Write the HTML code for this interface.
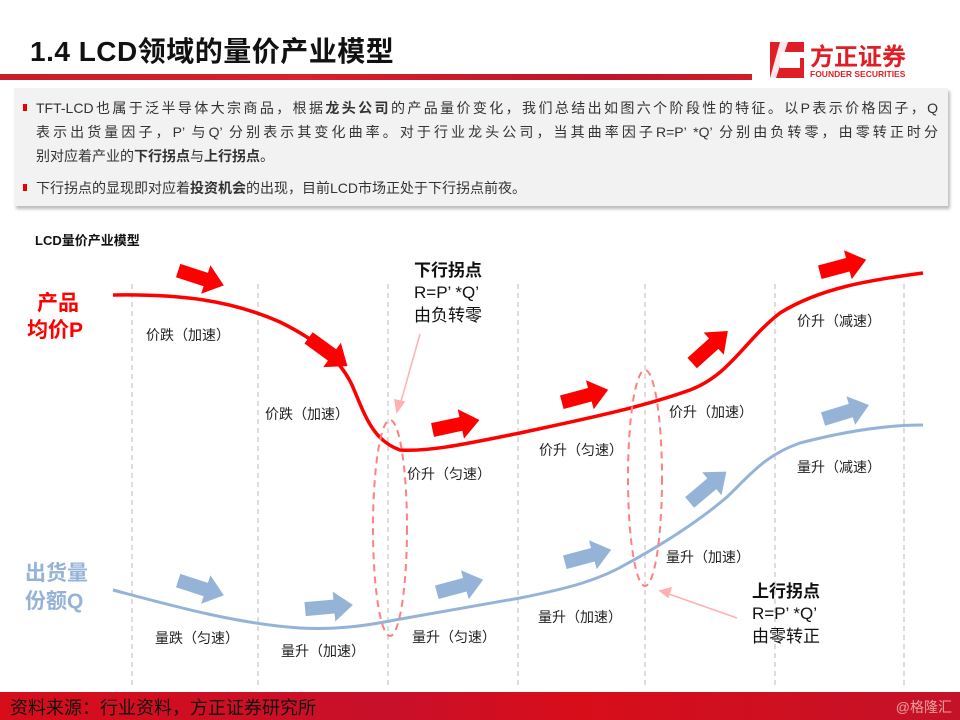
<!DOCTYPE html>
<html><head><meta charset="utf-8"><style>
body{margin:0;width:960px;height:720px;overflow:hidden;background:#fff;font-family:"Liberation Sans","Noto Sans CJK SC",sans-serif;position:relative}
.title{position:absolute;left:30px;top:30px;font-size:28px;font-weight:bold;color:#111;letter-spacing:0.5px}
.bar{position:absolute;left:0;top:74px;width:752px;height:6px;background:linear-gradient(90deg,#c81d2a,#d8202e 40%,#c01428 80%,#d11c2a);}
.box{position:absolute;left:14px;top:88px;width:934px;height:118px;background:#f2f2f2;box-shadow:2px 3px 3px #bbb}
.ln{position:absolute;left:22px;font-size:14px;color:#333;white-space:nowrap;text-align:justify;text-align-last:justify;}
.b:before{content:"";position:absolute;left:-13px;top:6px;width:4px;height:7px;background:#e00}
.foot{position:absolute;left:0;top:692px;width:960px;height:28px;background:linear-gradient(90deg,#d80d1a 0,#c8102a 40%,#d80d1a 60%,#c41228 100%);}
.foot span{position:absolute;left:10px;top:2px;font-size:18px;color:#111}
.foot i{position:absolute;right:8px;top:5px;font-size:14px;color:#e8a0a0;font-style:normal}
</style></head><body>
<div class="title">1.4 LCD领域的量价产业模型</div>
<div class="bar"></div>
<svg style="position:absolute;left:768px;top:38px" width="160" height="42">
<polygon points="2,4 36,4 36,14 12,14 12,30 32,30 32,20 36,20 36,40 2,40" fill="#e01e25"/>
<polygon points="12,4 20,4 8,40 2,40" fill="#fff" opacity="0.9"/>
<text x="42" y="27" font-size="24" font-weight="bold" fill="#e01e25" font-family="Liberation Sans,Noto Sans CJK SC,sans-serif">方正证券</text>
<text x="42" y="39" font-size="8.5" font-weight="bold" fill="#e01e25" font-family="Liberation Sans,sans-serif">FOUNDER SECURITIES</text>
</svg>
<div class="box">
<div class="ln b" style="top:10px;width:902px">TFT-LCD也属于泛半导体大宗商品，根据<b>龙头公司</b>的产品量价变化，我们总结出如图六个阶段性的特征。以P表示价格因子，Q</div>
<div class="ln" style="top:34px;width:902px">表示出货量因子，P’ 与Q’ 分别表示其变化曲率。对于行业龙头公司，当其曲率因子R=P’ *Q’ 分别由负转零，由零转正时分</div>
<div class="ln" style="top:58px;text-align-last:left">别对应着产业的<b>下行拐点</b>与<b>上行拐点</b>。</div>
<div class="ln b" style="top:90px;text-align-last:left">下行拐点的显现即对应着<b>投资机会</b>的出现，目前LCD市场正处于下行拐点前夜。</div>
</div>
<svg style="position:absolute;left:0;top:0" width="960" height="720" font-family="Liberation Sans,Noto Sans CJK SC,sans-serif">
<defs><path id="ar" d="M-24,-7 L5,-7 L5,-15 L24,0 L5,15 L5,7 L-24,7Z"/></defs>
<text x="35" y="245" font-size="13" font-weight="bold" fill="#111">LCD量价产业模型</text>
<g stroke="#bbb" stroke-dasharray="5,4" stroke-width="1">
<line x1="132" y1="284" x2="132" y2="688"/><line x1="258" y1="284" x2="258" y2="688"/><line x1="388" y1="284" x2="388" y2="688"/><line x1="518" y1="284" x2="518" y2="688"/><line x1="645" y1="284" x2="645" y2="688"/><line x1="775" y1="284" x2="775" y2="688"/><line x1="904" y1="284" x2="904" y2="688"/>
</g>
<path d="M113,295 C180,294 230,300 280,322 C320,342 340,360 352,385 C365,415 372,440 400,450 C430,452 470,443 520,433 C580,420 640,408 690,390 C730,375 745,340 780,313 C820,288 870,280 923,273" fill="none" stroke="#f00" stroke-width="3.5"/>
<path d="M113,590 C180,608 240,624 300,628 C340,630 370,625 395,620 C450,610 480,605 520,598 C570,588 600,580 630,562 C670,540 700,520 727,497 C750,475 765,455 800,443 C850,430 890,425 923,425" fill="none" stroke="#95b3d7" stroke-width="3"/>
<g fill="#f00">
<use href="#ar" transform="translate(201,278) rotate(18)"/>
<use href="#ar" transform="translate(328,352) rotate(36)"/>
<use href="#ar" transform="translate(456,425) rotate(-12)"/>
<use href="#ar" transform="translate(585,396) rotate(-15)"/>
<use href="#ar" transform="translate(710,347) rotate(-42)"/>
<use href="#ar" transform="translate(843,266) rotate(-15)"/>
</g>
<g fill="#95b3d7">
<use href="#ar" transform="translate(201,588) rotate(18)"/>
<use href="#ar" transform="translate(329,607) rotate(-5)"/>
<use href="#ar" transform="translate(460,586) rotate(-15)"/>
<use href="#ar" transform="translate(588,556) rotate(-15)"/>
<use href="#ar" transform="translate(708,487) rotate(-40)"/>
<use href="#ar" transform="translate(846,412) rotate(-17)"/>
</g>
<g fill="none" stroke="#ff8080" stroke-width="2" stroke-dasharray="7,5">
<ellipse cx="390" cy="528" rx="17" ry="108"/>
<ellipse cx="645" cy="478" rx="17" ry="108"/>
</g>
<g stroke="#ffb0b0" stroke-width="1.5" fill="#ffb0b0">
<line x1="420" y1="334" x2="400" y2="405"/><polygon points="397,412 395,400 404,402"/>
<line x1="737" y1="618" x2="666" y2="593"/><polygon points="660,591 671,588 668,597"/>
</g>
<g font-size="14" fill="#222">
<text x="146" y="340">价跌（加速）</text>
<text x="265" y="419">价跌（加速）</text>
<text x="407" y="479">价升（匀速）</text>
<text x="539" y="455">价升（匀速）</text>
<text x="669" y="417">价升（加速）</text>
<text x="797" y="326">价升（减速）</text>
<text x="797" y="472">量升（减速）</text>
<text x="666" y="562">量升（加速）</text>
<text x="538" y="622">量升（加速）</text>
<text x="412" y="642">量升（匀速）</text>
<text x="281" y="656">量升（加速）</text>
<text x="155" y="643">量跌（匀速）</text>
</g>
<g font-size="21" font-weight="bold" fill="#f00"><text x="37" y="310">产品</text><text x="27" y="337">均价P</text></g>
<g font-size="21" font-weight="bold" fill="#95b3d7"><text x="25" y="580">出货量</text><text x="25" y="608">份额Q</text></g>
<g fill="#111">
<text x="414" y="276" font-size="17" font-weight="bold">下行拐点</text>
<text x="414" y="298" font-size="17">R=P’  *Q’</text>
<text x="414" y="321" font-size="17">由负转零</text>
<text x="752" y="597" font-size="17" font-weight="bold">上行拐点</text>
<text x="752" y="619" font-size="17">R=P’  *Q’</text>
<text x="752" y="642" font-size="17">由零转正</text>
</g>
</svg>
<div class="foot"><span>资料来源：行业资料，方正证券研究所</span><i>@格隆汇</i></div>
</body></html>
